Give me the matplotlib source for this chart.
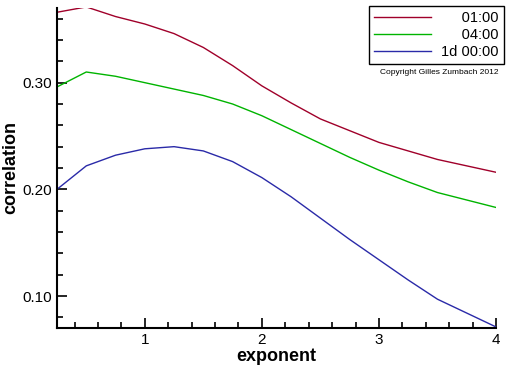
import matplotlib
matplotlib.use("Agg")
from matplotlib import pyplot as plt
from matplotlib.ticker import MultipleLocator, FormatStrFormatter

plt.rcParams['font.family'] = ['Liberation Sans', 'DejaVu Sans']

exponent = [0.25, 0.5, 0.75, 1.0, 1.25, 1.5, 1.75, 2.0, 2.25, 2.5, 2.75, 3.0, 3.25, 3.5, 3.75, 4.0]
corr_1h = [0.366, 0.371, 0.362, 0.355, 0.346, 0.333, 0.316, 0.297, 0.281, 0.266, 0.255, 0.244, 0.236, 0.228, 0.222, 0.216]
corr_4h = [0.296, 0.310, 0.306, 0.300, 0.294, 0.288, 0.280, 0.269, 0.256, 0.243, 0.230, 0.218, 0.207, 0.197, 0.190, 0.183]
corr_1d = [0.200, 0.222, 0.232, 0.238, 0.240, 0.236, 0.226, 0.211, 0.193, 0.173, 0.153, 0.134, 0.115, 0.097, 0.084, 0.071]

labels = ["     01:00", "     04:00", "1d 00:00"]
colors = ["#a0002a", "#00b400", "#2a2aa8"]

fig = plt.figure(figsize=(5.12, 3.66), dpi=100)
ax = fig.add_axes([57/512, 38/366, 439/512, 320/366])

for y, lab, c in zip([corr_1h, corr_4h, corr_1d], labels, colors):
    ax.plot(exponent, y, color=c, lw=1.0, label=lab)

ax.set_xlim(0.25, 4.0)
ax.set_ylim(0.07, 0.37)
ax.xaxis.set_major_locator(MultipleLocator(1))
ax.xaxis.set_minor_locator(MultipleLocator(0.2))
ax.yaxis.set_major_locator(MultipleLocator(0.1))
ax.yaxis.set_minor_locator(MultipleLocator(0.02))
ax.yaxis.set_major_formatter(FormatStrFormatter("%.2f"))

for s in ["top", "right"]:
    ax.spines[s].set_visible(False)
for s in ["left", "bottom"]:
    ax.spines[s].set_linewidth(1.5)

ax.tick_params(which="both", direction="in", width=1.2, labelsize=11)
ax.tick_params(which="major", length=7)
ax.tick_params(which="minor", length=4)

ax.set_xlabel("exponent", fontsize=13, fontweight="bold", labelpad=1)
ax.set_ylabel("correlation", fontsize=13, fontweight="bold", labelpad=2)

leg = ax.legend(loc="upper right", bbox_to_anchor=(504/512, 1 - 6/366),
                bbox_transform=fig.transFigure, borderaxespad=0,
                fancybox=False, framealpha=1, edgecolor="black",
                fontsize=10.5, handlelength=3.9, labelspacing=0.2,
                borderpad=0.35, handletextpad=0.7)
leg.get_frame().set_linewidth(1.0)

fig.text(439/512, 1 - 73/366, "Copyright Gilles Zumbach 2012",
         fontsize=6, ha="center", va="center")

fig.savefig("out.png", dpi=100)
